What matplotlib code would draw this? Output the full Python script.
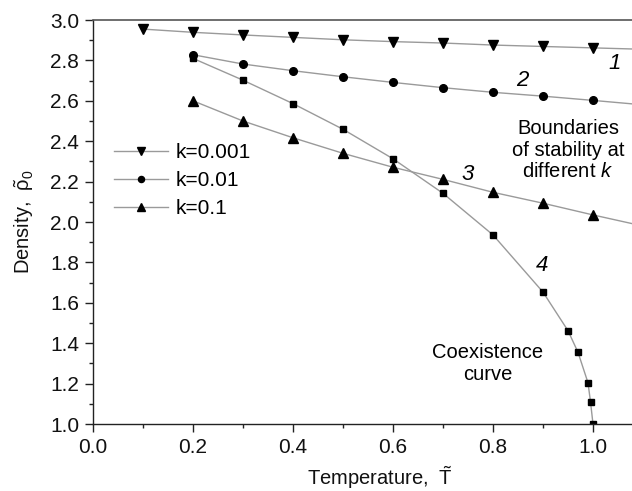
import matplotlib
matplotlib.use("Agg")
import matplotlib.pyplot as plt
from matplotlib.ticker import MultipleLocator, FormatStrFormatter

plt.rcParams['font.family'] = ['Liberation Sans', 'DejaVu Sans']
plt.rcParams['mathtext.fontset'] = 'custom'
plt.rcParams['mathtext.rm'] = 'Liberation Sans'
plt.rcParams['mathtext.it'] = 'Liberation Sans:italic'
plt.rcParams['mathtext.bf'] = 'Liberation Sans:bold'

# Data (last point of curves 1-3 continues the line past the visible edge, no marker)
T_k0001 = [0.1, 0.2, 0.3, 0.4, 0.5, 0.6, 0.7, 0.8, 0.9, 1.0, 1.1]
rho_k0001 = [2.955, 2.939, 2.926, 2.914, 2.902, 2.893, 2.886, 2.876, 2.869, 2.862, 2.855]

T_k001 = [0.2, 0.3, 0.4, 0.5, 0.6, 0.7, 0.8, 0.9, 1.0, 1.1]
rho_k001 = [2.828, 2.782, 2.749, 2.719, 2.691, 2.665, 2.642, 2.623, 2.602, 2.580]

T_k01 = [0.2, 0.3, 0.4, 0.5, 0.6, 0.7, 0.8, 0.9, 1.0, 1.1]
rho_k01 = [2.600, 2.500, 2.417, 2.340, 2.271, 2.211, 2.147, 2.093, 2.035, 1.980]

T_coex = [0.2, 0.3, 0.4, 0.5, 0.6, 0.7, 0.8, 0.9, 0.95, 0.97, 0.99, 0.995, 1.0]
rho_coex = [2.810, 2.702, 2.586, 2.459, 2.313, 2.142, 1.936, 1.653, 1.462, 1.355, 1.204, 1.110, 1.0]

labels = ['k=0.001', 'k=0.01', 'k=0.1']

W, H = 632, 491
fig = plt.figure(figsize=(W / 100, H / 100), dpi=100)
ax = fig.add_axes([93 / W, 1 - 424 / H, (W - 93) / W, (424 - 20) / H])

lc = '#9a9a9a'
lw = 1.0
ax.plot(T_k0001, rho_k0001, color=lc, lw=lw, marker='v', ms=6.5, mfc='k', mec='k',
        markevery=list(range(len(T_k0001) - 1)), label=labels[0])
ax.plot(T_k001, rho_k001, color=lc, lw=lw, marker='o', ms=5.5, mfc='k', mec='k',
        markevery=list(range(len(T_k001) - 1)), label=labels[1])
ax.plot(T_k01, rho_k01, color=lc, lw=lw, marker='^', ms=6.5, mfc='k', mec='k',
        markevery=list(range(len(T_k01) - 1)), label=labels[2])
ax.plot(T_coex, rho_coex, color=lc, lw=lw, marker='s', ms=5, mfc='k', mec='k')

ax.set_xlim(0, (W - 93) / 500)
ax.set_ylim(1.0, 3.0)
ax.xaxis.set_major_locator(MultipleLocator(0.2))
ax.xaxis.set_minor_locator(MultipleLocator(0.1))
ax.yaxis.set_major_locator(MultipleLocator(0.2))
ax.yaxis.set_minor_locator(MultipleLocator(0.1))
ax.xaxis.set_major_formatter(FormatStrFormatter('%.1f'))
ax.yaxis.set_major_formatter(FormatStrFormatter('%.1f'))

ax.tick_params(which='major', direction='out', length=6, width=1.0, labelsize=15, pad=4,
               color='#222222', labelcolor='#111111')
ax.tick_params(which='minor', direction='out', length=3, width=1.0, color='#222222')
ax.tick_params(top=False, right=False, which='both')
for s in ['left', 'bottom']:
    ax.spines[s].set_linewidth(1.0)
    ax.spines[s].set_color('#222222')
ax.spines['top'].set_linewidth(1.2)
ax.spines['top'].set_color('#555555')
ax.spines['right'].set_visible(False)

ax.set_xlabel(r'Temperature,  $\tilde{\mathrm{T}}$', fontsize=14.5, color='#111111')
ax.set_ylabel(r'Density,  $\tilde{\mathrm{\rho}}_0$', fontsize=14.5, color='#111111')
ax.xaxis.set_label_coords((380 - 93) / (W - 93), -0.1)
ax.yaxis.set_label_coords(-0.105, 0.5)

leg = ax.legend(loc='upper left', bbox_to_anchor=(0.023, 0.715), frameon=False,
                fontsize=15, handlelength=2.6, handletextpad=0.35, labelspacing=0.42,
                markerscale=0.8, borderaxespad=0)

ax.text(1.044, 2.786, '1', fontsize=16, style='italic', ha='center', va='center')
ax.text(0.858, 2.700, '2', fontsize=16, style='italic', ha='center', va='center')
ax.text(0.750, 2.235, '3', fontsize=16, style='italic', ha='center', va='center')
ax.text(0.898, 1.787, '4', fontsize=16, style='italic', ha='center', va='center')

ax.text(0.950, 2.356, 'Boundaries\nof stability at\ndifferent $\\it{k}$', fontsize=14.5,
        ha='center', va='center', linespacing=1.15)
ax.text(0.790, 1.300, 'Coexistence\ncurve', fontsize=14.5, ha='center', va='center',
        linespacing=1.15)

fig.savefig('out.png', dpi=100)
